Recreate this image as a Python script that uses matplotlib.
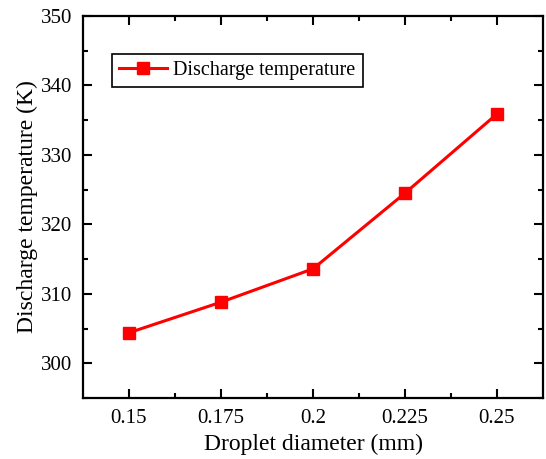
import matplotlib
matplotlib.use("Agg")
import matplotlib.pyplot as plt
from matplotlib.ticker import MultipleLocator, FixedLocator

diameters = [0.15, 0.175, 0.2, 0.225, 0.25]
temperatures = [304.4, 308.8, 313.6, 324.5, 335.9]
xtick_labels = ["0.15", "0.175", "0.2", "0.225", "0.25"]

plt.rcParams['font.family'] = ['Liberation Serif', 'DejaVu Serif']

fig = plt.figure(figsize=(5.46, 4.59), dpi=100)
ax = fig.add_axes([83/546, 1-398/459, (543-83)/546, (398-16)/459])

ax.plot(diameters, temperatures, color='#ff0000', lw=2.2, marker='s', ms=9,
        label='Discharge temperature')

ax.set_xlim(0.1375, 0.2625)
ax.set_ylim(295, 350)
ax.set_xticks(diameters)
ax.set_xticklabels(xtick_labels)
ax.xaxis.set_minor_locator(FixedLocator([0.1625, 0.1875, 0.2125, 0.2375]))
ax.yaxis.set_major_locator(MultipleLocator(10))
ax.yaxis.set_minor_locator(MultipleLocator(5))

ax.tick_params(which='both', direction='in', top=True, right=True, width=1.5)
ax.tick_params(which='major', length=6.5, labelsize=15, pad=8)
ax.tick_params(which='minor', length=3.5)
for s in ax.spines.values():
    s.set_linewidth(1.6)

ax.set_xlabel('Droplet diameter (mm)', fontsize=17, labelpad=4)
ax.set_ylabel('Discharge temperature (K)', fontsize=17, labelpad=2)

leg = ax.legend(loc='upper left', bbox_to_anchor=(0.063, 0.9), fontsize=14.5,
                frameon=True, fancybox=False, edgecolor='black', framealpha=1,
                borderpad=0.35, handlelength=2.4, handletextpad=0.3, borderaxespad=0)
leg.get_frame().set_linewidth(1.2)

fig.savefig('out.png', dpi=100)
